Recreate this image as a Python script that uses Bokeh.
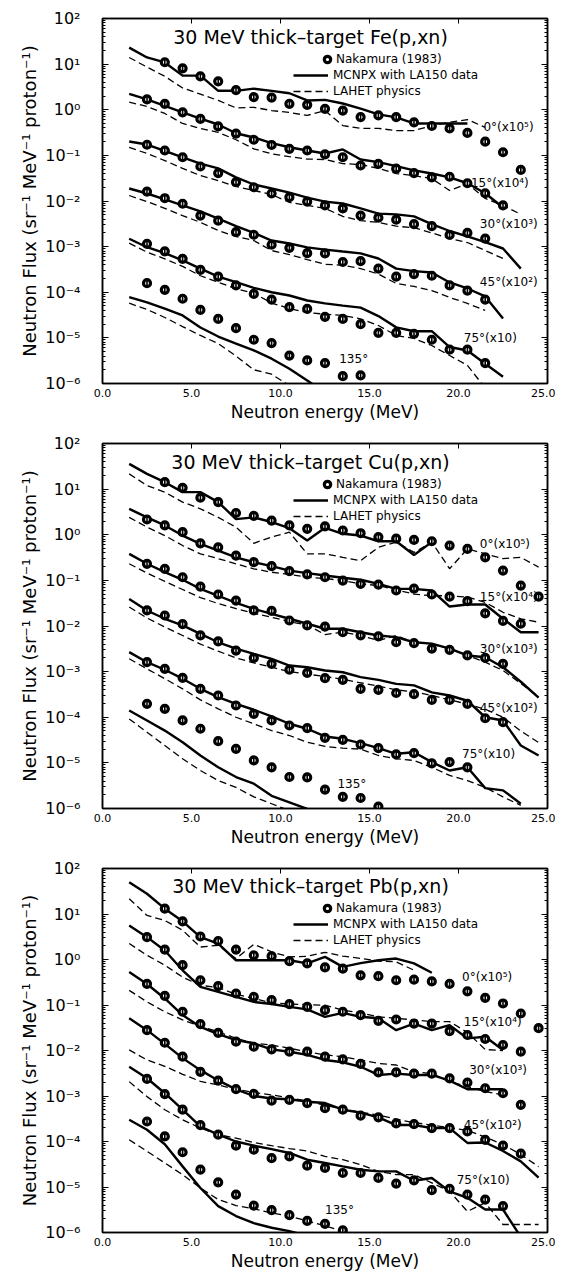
import math
from bokeh.plotting import figure
from bokeh.models import (Range1d, FixedTicker, LinearAxis, LogAxis, CustomJSTickFormatter,
                          PrintfTickFormatter, Label, Legend, LegendItem)
from bokeh.layouts import column
from bokeh.embed import file_html
from bokeh.resources import INLINE

FONT = "DejaVu Sans"

# 1-MeV bin centres used by all series
ENERGY = [1.5 + i for i in range(24)]

X_TICKS = [0, 5, 10, 15, 20, 25]
Y_TICKS = [1e-6, 1e-5, 1e-4, 1e-3, 1e-2, 1e-1, 1e0, 1e1, 1e2]

ANGLE_TEXT = ["0°(x10⁵)", "15°(x10⁴)", "30°(x10³)", "45°(x10²)", "75°(x10)", "135°"]

# ---------------- Fe ----------------
FE_0_EXP = [11.0, 8.1, 5.4, 4.2, 2.7, 1.9, 1.85, 1.35, 1.28, 1.05, 0.96, 0.69, 0.75, 0.69, 0.53, 0.44, 0.39, 0.31, 0.20, 0.117, 0.048]
FE_0_MCNPX = [23, 14, 10.9, 5.6, 5.6, 2.6, 2.6, 2.9, 2.6, 2.3, 1.6, 1.65, 1.37, 1.06, 0.79, 0.68, 0.50, 0.50, 0.50, 0.50]
FE_0_LAHET = [14, 8.6, 5.4, 3.0, 2.2, 1.6, 1.1, 1.13, 0.96, 0.87, 0.75, 0.96, 0.45, 0.39, 0.39, 0.35, 0.35, 0.45, 0.53, 0.61, 0.41]
FE_15_EXP = [1.68, 1.35, 0.88, 0.63, 0.43, 0.30, 0.22, 0.169, 0.139, 0.128, 0.105, 0.091, 0.060, 0.065, 0.051, 0.041, 0.033, 0.034, 0.0245, 0.0148, 0.0080]
FE_15_MCNPX = [2.24, 1.68, 1.21, 0.88, 0.64, 0.475, 0.306, 0.247, 0.185, 0.151, 0.128, 0.110, 0.135, 0.081, 0.071, 0.058, 0.047, 0.040, 0.033, 0.0245, 0.0148, 0.0072]
FE_15_LAHET = [1.47, 1.18, 0.83, 0.50, 0.39, 0.32, 0.22, 0.139, 0.108, 0.094, 0.083, 0.081, 0.066, 0.063, 0.052, 0.040, 0.036, 0.031, 0.017, 0.024, 0.0114, 0.0080, 0.0051]
FE_30_EXP = [0.171, 0.128, 0.091, 0.057, 0.041, 0.0258, 0.0200, 0.0146, 0.0121, 0.0097, 0.0080, 0.0069, 0.0048, 0.0043, 0.0039, 0.0031, 0.0028, 0.0018, 0.0020, 0.0015]
FE_30_MCNPX = [0.201, 0.173, 0.125, 0.090, 0.066, 0.052, 0.033, 0.023, 0.0188, 0.0153, 0.0119, 0.0097, 0.0088, 0.0069, 0.0053, 0.0051, 0.0046, 0.0031, 0.0022, 0.00167, 0.00125, 0.00091, 0.00033]
FE_30_LAHET = [0.149, 0.110, 0.077, 0.052, 0.036, 0.028, 0.0208, 0.0170, 0.0139, 0.0093, 0.0080, 0.0069, 0.0046, 0.0037, 0.0034, 0.0028, 0.0026, 0.0020, 0.00151, 0.00123, 0.00082, 0.00055]
FE_45_EXP = [0.0161, 0.0115, 0.0087, 0.0048, 0.0037, 0.00207, 0.00182, 0.00110, 0.00094, 0.00072, 0.00071, 0.00046, 0.00048, 0.00033, 0.00022, 0.00025, 0.00023, 0.000141, 0.000109, 0.000069]
FE_45_MCNPX = [0.0188, 0.0146, 0.0108, 0.0080, 0.0059, 0.0041, 0.0028, 0.0020, 0.00136, 0.00117, 0.00096, 0.00086, 0.00078, 0.00071, 0.00055, 0.00033, 0.00029, 0.00027, 0.000164, 0.000121, 0.000081, 0.0000266]
FE_45_LAHET = [0.0132, 0.0097, 0.0069, 0.0048, 0.0034, 0.00226, 0.00167, 0.00136, 0.00082, 0.00067, 0.00052, 0.00041, 0.00039, 0.00033, 0.00025, 0.000156, 0.000134, 0.000109, 0.000077, 0.000057, 0.000040]
FE_75_EXP = [0.00115, 0.00079, 0.00054, 0.00031, 0.00022, 0.000141, 0.000092, 0.000069, 0.000047, 0.000043, 0.000029, 0.000026, 0.000020, 0.0000129, 0.0000129, 0.0000123, 0.0000091, 0.0000055, 0.0000055, 0.0000028]
FE_75_MCNPX = [0.00149, 0.00097, 0.00072, 0.00050, 0.00033, 0.00022, 0.000166, 0.000125, 0.000100, 0.000085, 0.000066, 0.000057, 0.000051, 0.000046, 0.000030, 0.000017, 0.0000140, 0.0000140, 0.0000063, 0.0000053, 0.0000027, 0.0000014]
FE_75_LAHET = [0.00119, 0.00076, 0.00054, 0.00037, 0.00023, 0.000166, 0.000119, 0.000095, 0.000058, 0.000044, 0.000036, 0.000033, 0.000031, 0.000026, 0.0000187, 0.0000113, 0.0000097, 0.0000068, 0.0000041, 0.0000025, 0.0000008]
FE_135_EXP = [0.000158, 0.000113, 0.000072, 0.000041, 0.000026, 0.0000163, 0.0000091, 0.0000077, 0.0000041, 0.0000032, 0.0000028, 0.00000145, 0.0000015]
FE_135_MCNPX = [0.000078, 0.000060, 0.000044, 0.000031, 0.0000169, 0.0000107, 0.0000075, 0.0000053, 0.0000035, 0.0000021, 0.00000116, 0.00000064]
FE_135_LAHET = [0.0000575, 0.000042, 0.000028, 0.0000177, 0.0000113, 0.0000075, 0.0000040, 0.0000020, 0.0000016, 0.0000009]

# ---------------- Cu ----------------
CU_0_EXP = [14.2, 10.7, 6.5, 5.2, 3.0, 2.6, 2.05, 1.6, 1.35, 1.52, 1.24, 1.08, 0.89, 0.82, 0.77, 0.72, 0.58, 0.49, 0.32, 0.164, 0.077, 0.044]
CU_0_MCNPX = [35.8, 21.6, 14.2, 8.6, 8.6, 5.2, 2.2, 2.4, 1.9, 1.39, 0.75, 1.42, 1.05, 0.96, 0.72, 0.72, 0.36, 0.69]
CU_0_LAHET = [21.6, 12.0, 8.6, 5.2, 3.7, 2.4, 1.47, 0.65, 0.89, 1.14, 0.38, 0.38, 0.32, 0.27, 0.53, 0.69, 0.41, 0.69, 0.18, 0.49, 0.38, 0.30, 0.32, 0.195]
CU_15_EXP = [2.16, 1.6, 1.14, 0.65, 0.53, 0.35, 0.25, 0.205, 0.159, 0.135, 0.117, 0.099, 0.084, 0.081, 0.060, 0.066, 0.049, 0.044, 0.035, 0.019, 0.0129, 0.0112]
CU_15_MCNPX = [3.7, 2.4, 1.6, 0.96, 0.63, 0.45, 0.32, 0.25, 0.205, 0.164, 0.144, 0.128, 0.114, 0.103, 0.084, 0.065, 0.065, 0.060, 0.0267, 0.0296, 0.0296, 0.0144, 0.0073, 0.0073]
CU_15_LAHET = [2.4, 1.47, 0.96, 0.58, 0.38, 0.30, 0.231, 0.179, 0.151, 0.135, 0.117, 0.110, 0.099, 0.084, 0.077, 0.062, 0.050, 0.046, 0.046, 0.043, 0.033, 0.020, 0.0144, 0.0121]
CU_30_EXP = [0.231, 0.179, 0.117, 0.073, 0.049, 0.036, 0.0219, 0.0214, 0.0132, 0.0103, 0.0097, 0.0073, 0.0062, 0.0059, 0.0044, 0.0042, 0.0032, 0.0030, 0.00226, 0.0020, 0.00148]
CU_30_MCNPX = [0.38, 0.231, 0.151, 0.103, 0.065, 0.046, 0.032, 0.0238, 0.0185, 0.0144, 0.0112, 0.0087, 0.0087, 0.0073, 0.0062, 0.0057, 0.0044, 0.0041, 0.0032, 0.00226, 0.00207, 0.00125, 0.00060, 0.00027]
CU_30_LAHET = [0.231, 0.145, 0.095, 0.063, 0.042, 0.031, 0.024, 0.019, 0.0155, 0.0125, 0.0105, 0.0065, 0.0073, 0.0062, 0.0048, 0.0062, 0.0044, 0.0040, 0.0032, 0.00226, 0.00161, 0.00106, 0.00055, 0.00028]
CU_45_EXP = [0.0219, 0.0170, 0.0110, 0.0062, 0.0046, 0.0029, 0.0020, 0.00148, 0.00110, 0.00094, 0.00072, 0.00066, 0.00042, 0.00040, 0.00034, 0.00032, 0.00024, 0.00024, 0.000197, 0.000095, 0.000078]
CU_45_MCNPX = [0.039, 0.0219, 0.0144, 0.0103, 0.0067, 0.0044, 0.0032, 0.00245, 0.00191, 0.00136, 0.00125, 0.00106, 0.00097, 0.00076, 0.00066, 0.00054, 0.00050, 0.00035, 0.00030, 0.00023, 0.000100, 0.000085, 0.000024, 0.0000145]
CU_45_LAHET = [0.026, 0.0150, 0.0095, 0.0062, 0.0040, 0.0028, 0.0020, 0.00155, 0.00125, 0.00100, 0.00088, 0.00078, 0.00068, 0.00057, 0.00048, 0.00040, 0.00036, 0.00030, 0.00024, 0.000195, 0.000150, 0.000100, 0.000050, 0.000028]
CU_75_EXP = [0.00161, 0.00115, 0.00073, 0.00042, 0.00030, 0.000181, 0.000119, 0.000085, 0.000066, 0.000058, 0.0000354, 0.0000320, 0.0000253, 0.0000210, 0.0000153, 0.0000163, 0.0000098, 0.0000104, 0.0000080]
CU_75_MCNPX = [0.00267, 0.00161, 0.00110, 0.00070, 0.00042, 0.000275, 0.000197, 0.000146, 0.000104, 0.000072, 0.000056, 0.0000379, 0.0000337, 0.0000270, 0.0000210, 0.0000158, 0.0000171, 0.0000104, 0.0000068, 0.0000080, 0.0000028, 0.0000025, 0.00000127]
CU_75_LAHET = [0.00191, 0.00115, 0.00070, 0.00042, 0.00024, 0.000153, 0.000100, 0.000072, 0.000051, 0.0000398, 0.0000284, 0.0000229, 0.0000210, 0.0000200, 0.0000145, 0.0000123, 0.0000113, 0.0000080, 0.0000053, 0.0000041, 0.0000029, 0.0000018, 0.00000117]
CU_135_EXP = [0.000197, 0.000153, 0.000085, 0.000056, 0.0000299, 0.0000203, 0.0000113, 0.0000080, 0.0000049, 0.0000048, 0.0000026, 0.0000018, 0.0000017, 0.0000011]
CU_135_MCNPX = [0.000141, 0.000085, 0.000051, 0.0000284, 0.0000145, 0.0000080, 0.0000049, 0.0000035, 0.0000019, 0.00000137, 0.00000098]
CU_135_LAHET = [0.000092, 0.000047, 0.000024, 0.0000123, 0.0000068, 0.0000041, 0.0000029, 0.0000018, 0.00000127, 0.00000090]

# ---------------- Pb ----------------
PB_0_EXP = [13.1, 6.9, 3.2, 2.55, 1.65, 1.24, 1.18, 0.92, 0.82, 0.67, 0.63, 0.45, 0.43, 0.35, 0.36, 0.33, 0.29, 0.20, 0.144, 0.108, 0.065, 0.031]
PB_0_MCNPX = [50, 27.9, 13.1, 6.9, 3.1, 2.24, 0.96, 0.96, 0.96, 0.96, 0.82, 1.14, 0.69, 0.83, 0.96, 1.05, 0.82, 0.51]
PB_0_LAHET = [21.7, 9.3, 7.2, 4.4, 1.88, 2.05, 1.05, 2.16, 1.47, 1.14, 1.18, 1.44, 1.18, 1.06, 0.92, 0.89, 0.58]
PB_15_EXP = [3.1, 1.65, 0.75, 0.35, 0.26, 0.179, 0.151, 0.128, 0.105, 0.091, 0.077, 0.071, 0.060, 0.045, 0.048, 0.039, 0.039, 0.0267, 0.0219, 0.0179, 0.0132, 0.0094]
PB_15_MCNPX = [5.6, 3.1, 1.58, 0.58, 0.25, 0.195, 0.151, 0.117, 0.105, 0.091, 0.080, 0.055, 0.067, 0.055, 0.051, 0.028, 0.039, 0.028, 0.036, 0.0185, 0.020, 0.0103]
PB_15_LAHET = [2.24, 1.24, 0.75, 0.41, 0.27, 0.243, 0.172, 0.139, 0.112, 0.105, 0.102, 0.099, 0.077, 0.067, 0.055, 0.051, 0.047, 0.043, 0.043, 0.025, 0.0105, 0.0100]
PB_30_EXP = [0.29, 0.159, 0.071, 0.038, 0.0245, 0.0156, 0.0121, 0.0106, 0.0094, 0.0094, 0.0073, 0.0064, 0.0051, 0.0033, 0.0033, 0.0031, 0.0031, 0.00245, 0.00197, 0.00148, 0.00115, 0.00064]
PB_30_MCNPX = [0.53, 0.29, 0.139, 0.060, 0.033, 0.023, 0.0170, 0.0144, 0.0106, 0.0094, 0.0080, 0.0062, 0.0055, 0.0044, 0.0029, 0.0031, 0.0029, 0.0029, 0.00218, 0.00141, 0.00141, 0.00141]
PB_30_LAHET = [0.21, 0.117, 0.071, 0.047, 0.034, 0.0258, 0.0185, 0.0144, 0.0132, 0.0112, 0.0094, 0.0080, 0.0073, 0.0062, 0.0052, 0.0048, 0.0034, 0.0031, 0.00207, 0.00161, 0.00125, 0.00106]
PB_45_EXP = [0.028, 0.0148, 0.0073, 0.0034, 0.00218, 0.00141, 0.00111, 0.00079, 0.00082, 0.00070, 0.00054, 0.00050, 0.00037, 0.00034, 0.00025, 0.00024, 0.000197, 0.000197, 0.000166, 0.000109, 0.000081, 0.000054]
PB_45_MCNPX = [0.051, 0.028, 0.014, 0.0068, 0.0037, 0.0022, 0.00140, 0.00100, 0.00088, 0.00085, 0.00075, 0.00070, 0.00050, 0.00043, 0.00034, 0.00023, 0.00023, 0.000197, 0.000197, 0.000093, 0.000095, 0.000062, 0.0000366, 0.000016]
PB_45_LAHET = [0.0103, 0.0062, 0.0045, 0.0030, 0.0021, 0.00175, 0.00140, 0.00120, 0.00106, 0.00090, 0.00078, 0.00062, 0.00052, 0.00044, 0.00038, 0.00031, 0.00026, 0.00023, 0.000200, 0.000175, 0.000125, 0.000085, 0.000052, 0.000028]
PB_75_EXP = [0.00237, 0.00110, 0.00050, 0.00023, 0.000141, 0.000081, 0.000066, 0.000043, 0.000047, 0.0000294, 0.0000262, 0.0000203, 0.0000203, 0.0000158, 0.0000119, 0.0000140, 0.0000085, 0.0000091, 0.0000068, 0.0000053, 0.0000038]
PB_75_MCNPX = [0.0044, 0.00245, 0.00115, 0.00050, 0.000214, 0.000141, 0.000100, 0.000081, 0.000068, 0.000056, 0.0000398, 0.0000337, 0.0000284, 0.0000240, 0.0000220, 0.0000220, 0.0000137, 0.0000158, 0.0000080, 0.0000058, 0.0000032, 0.0000032, 0.0000008]
PB_75_LAHET = [0.00207, 0.00097, 0.00050, 0.00030, 0.000197, 0.000141, 0.000119, 0.000095, 0.000081, 0.000070, 0.000062, 0.000047, 0.0000398, 0.0000309, 0.0000220, 0.0000187, 0.0000187, 0.0000123, 0.0000080, 0.0000029, 0.0000045, 0.0000015, 0.0000015, 0.0000015]
PB_135_EXP = [0.000275, 0.000129, 0.000058, 0.0000240, 0.0000127, 0.0000068, 0.0000039, 0.0000031, 0.0000024, 0.0000018, 0.00000155, 0.00000112]
PB_135_MCNPX = [0.00030, 0.000181, 0.000087, 0.0000284, 0.0000095, 0.0000038, 0.0000023, 0.0000016, 0.00000127, 0.00000107, 0.00000085]
PB_135_LAHET = [0.000109, 0.000061, 0.0000337, 0.0000187, 0.0000095, 0.0000053, 0.0000039, 0.0000033, 0.0000027, 0.0000023, 0.0000018, 0.0000014, 0.00000107]

# first energy of each series (exp, MCNPX, LAHET), per angle
SERIES_START = [(3.5, 1.5, 1.5), (2.5, 1.5, 1.5), (2.5, 1.5, 1.5), (2.5, 1.5, 1.5), (2.5, 1.5, 1.5), (2.5, 1.5, 1.5)]

FE_SERIES = [(FE_0_EXP, FE_0_MCNPX, FE_0_LAHET), (FE_15_EXP, FE_15_MCNPX, FE_15_LAHET),
             (FE_30_EXP, FE_30_MCNPX, FE_30_LAHET), (FE_45_EXP, FE_45_MCNPX, FE_45_LAHET),
             (FE_75_EXP, FE_75_MCNPX, FE_75_LAHET), (FE_135_EXP, FE_135_MCNPX, FE_135_LAHET)]
CU_SERIES = [(CU_0_EXP, CU_0_MCNPX, CU_0_LAHET), (CU_15_EXP, CU_15_MCNPX, CU_15_LAHET),
             (CU_30_EXP, CU_30_MCNPX, CU_30_LAHET), (CU_45_EXP, CU_45_MCNPX, CU_45_LAHET),
             (CU_75_EXP, CU_75_MCNPX, CU_75_LAHET), (CU_135_EXP, CU_135_MCNPX, CU_135_LAHET)]
PB_SERIES = [(PB_0_EXP, PB_0_MCNPX, PB_0_LAHET), (PB_15_EXP, PB_15_MCNPX, PB_15_LAHET),
             (PB_30_EXP, PB_30_MCNPX, PB_30_LAHET), (PB_45_EXP, PB_45_MCNPX, PB_45_LAHET),
             (PB_75_EXP, PB_75_MCNPX, PB_75_LAHET), (PB_135_EXP, PB_135_MCNPX, PB_135_LAHET)]

# angle label anchors (energy, flux)
FE_LABEL_AT = [(21.4, 0.41), (20.7, 0.0254), (21.2, 0.0032), (21.2, 0.000166), (20.3, 9.7e-6), (13.3, 3.5e-6)]
CU_LABEL_AT = [(21.2, 0.63), (21.2, 0.044), (21.2, 0.0032), (21.2, 0.000161), (20.2, 1.58e-5), (13.2, 3.5e-6)]
PB_LABEL_AT = [(20.2, 0.41), (20.3, 0.043), (20.6, 0.0037), (20.3, 0.000233), (19.9, 1.45e-5), (12.5, 3.2e-6)]


def energies(start, vals):
    i = ENERGY.index(start)
    return ENERGY[i:i + len(vals)]


SUP_JS = """
const sup = {"-": "\u207b", "0": "\u2070", "1": "\u00b9", "2": "\u00b2", "3": "\u00b3",
             "4": "\u2074", "5": "\u2075", "6": "\u2076", "7": "\u2077", "8": "\u2078", "9": "\u2079"};
const e = Math.round(Math.log10(tick));
return "10" + String(e).split("").map(c => sup[c]).join("");
"""

BLANK_JS = "return ' ';"


def make_panel(target, series, label_at, height, border_top, border_bottom):
    p = figure(width=555, height=height, x_range=Range1d(0, 25), y_range=Range1d(1e-6, 1e2),
               y_axis_type="log", output_backend="svg", toolbar_location=None,
               min_border_left=102, min_border_right=8, min_border_top=border_top,
               min_border_bottom=border_bottom)
    p.xgrid.visible = False
    p.ygrid.visible = False
    p.outline_line_color = "black"
    p.outline_line_width = 1.5
    p.background_fill_color = "white"

    yt = FixedTicker(ticks=Y_TICKS,
                     minor_ticks=[m * 10.0 ** k for k in range(-6, 2) for m in range(2, 10)])
    xt = FixedTicker(ticks=X_TICKS)

    # bottom axis
    xa = p.xaxis[0]
    xa.ticker = xt
    xa.formatter = PrintfTickFormatter(format="%.1f")
    xa.major_tick_in = 0
    xa.major_tick_out = 0
    xa.minor_tick_in = 0
    xa.minor_tick_out = 0
    xa.axis_line_width = 1.5
    xa.major_label_standoff = 5
    xa.major_label_text_font = FONT
    xa.major_label_text_font_size = "11px"
    xa.major_label_text_color = "black"
    xa.axis_label = "Neutron energy (MeV)"
    xa.axis_label_text_font = FONT
    xa.axis_label_text_font_size = "17px"
    xa.axis_label_text_font_style = "normal"
    xa.axis_label_text_color = "black"
    xa.axis_label_standoff = 2

    # left axis
    ya = p.yaxis[0]
    ya.ticker = yt
    ya.formatter = CustomJSTickFormatter(code=SUP_JS)
    ya.major_tick_in = 6
    ya.major_tick_out = 0
    ya.minor_tick_in = 3
    ya.minor_tick_out = 0
    ya.axis_line_width = 1.5
    ya.major_label_standoff = 22
    ya.major_label_text_font = FONT
    ya.major_label_text_font_size = "16px"
    ya.major_label_text_color = "black"
    ya.axis_label = "Neutron Flux (sr⁻¹ MeV⁻¹ proton⁻¹)"
    ya.axis_label_text_font = FONT
    ya.axis_label_text_font_size = "18px"
    ya.axis_label_text_font_style = "normal"
    ya.axis_label_text_color = "black"
    ya.axis_label_standoff = 2

    # top and right axes: inward ticks only, blank labels
    top = LinearAxis(ticker=xt, formatter=CustomJSTickFormatter(code=BLANK_JS),
                     major_tick_in=5, major_tick_out=0, minor_tick_in=0, minor_tick_out=0,
                     major_label_standoff=0, major_label_text_font_size="4px", axis_line_width=1.5)
    p.add_layout(top, "above")
    right = LogAxis(ticker=yt, formatter=CustomJSTickFormatter(code=BLANK_JS),
                    major_tick_in=6, major_tick_out=0, minor_tick_in=3, minor_tick_out=0,
                    major_label_standoff=0, major_label_text_font_size="4px", axis_line_width=1.5)
    p.add_layout(right, "right")

    line_renderers = []
    marker_renderers = []
    for (exp, mc, la), (s_exp, s_mc, s_la) in zip(series, SERIES_START):
        r_mc = p.line(energies(s_mc, mc), mc, line_color="black", line_width=2.4)
        r_la = p.line(energies(s_la, la), la, line_color="black", line_width=1.3, line_dash="7 4")
        line_renderers.append((r_mc, r_la))
    for (exp, mc, la), (s_exp, s_mc, s_la) in zip(series, SERIES_START):
        ex = energies(s_exp, exp)
        r_pt = p.scatter(ex, exp, marker="circle", size=7, fill_color="white",
                         line_color="black", line_width=3.2)
        p.scatter(ex, exp, marker="dash", angle=math.pi / 2, size=7, line_color="black",
                  line_width=1.6)
        marker_renderers.append(r_pt)

    # legends
    leg_pts = Legend(items=[LegendItem(label="Nakamura (1983)", renderers=[marker_renderers[0]])],
                     location=(217, 314), glyph_width=16, glyph_height=20, label_height=20,
                     label_standoff=1, padding=0, spacing=0,
                     border_line_color=None, background_fill_alpha=0,
                     label_text_font=FONT, label_text_font_size="12px", label_text_color="black")
    leg_lines = Legend(items=[LegendItem(label="MCNPX with LA150 data", renderers=[line_renderers[0][0]]),
                              LegendItem(label="LAHET physics", renderers=[line_renderers[0][1]])],
                       location=(191, 284), glyph_width=35, glyph_height=16, label_height=16,
                       label_standoff=5, padding=0, spacing=0,
                       border_line_color=None, background_fill_alpha=0,
                       label_text_font=FONT, label_text_font_size="12px", label_text_color="black")
    p.add_layout(leg_pts)
    p.add_layout(leg_lines)

    # title inside the frame
    p.add_layout(Label(x=208, y=347, x_units="screen", y_units="screen",
                       text=f"30 MeV thick–target {target}(p,xn)", text_align="center",
                       text_baseline="middle", text_font=FONT, text_font_size="19px",
                       text_color="black"))

    # angle labels
    for txt, (lx, ly) in zip(ANGLE_TEXT, label_at):
        p.add_layout(Label(x=lx, y=ly, text=txt, text_align="left", text_baseline="middle",
                           text_font=FONT, text_font_size="12px", text_color="black"))
    return p


p1 = make_panel("Fe", FE_SERIES, FE_LABEL_AT, 433, 18, 50)
p2 = make_panel("Cu", CU_SERIES, CU_LABEL_AT, 425, 10, 50)
p3 = make_panel("Pb", PB_SERIES, PB_LABEL_AT, 415, 10, 40)

layout = column(p1, p2, p3)
with open("out.html", "w", encoding="utf-8") as f:
    f.write(file_html(layout, INLINE))
